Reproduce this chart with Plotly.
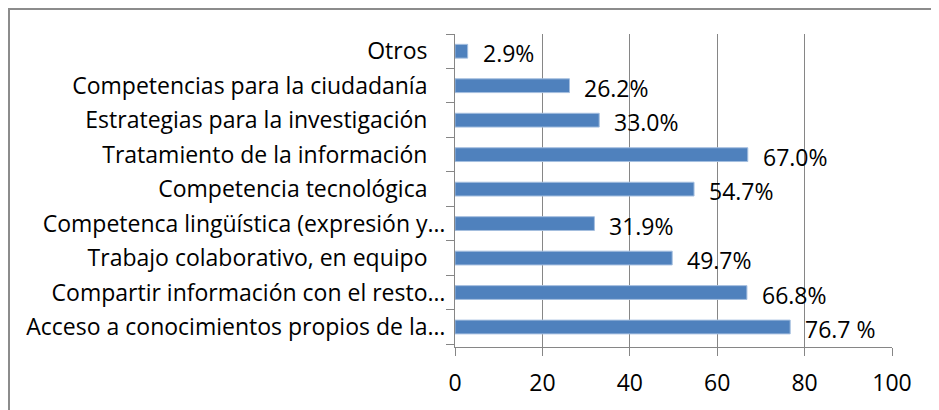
import plotly.graph_objects as go

categories = [
    "Acceso a conocimientos propios de la…",
    "Compartir información con el resto…",
    "Trabajo colaborativo, en equipo",
    "Competenca lingüística (expresión y…",
    "Competencia tecnológica",
    "Tratamiento de la información",
    "Estrategias para la investigación",
    "Competencias para la ciudadanía",
    "Otros",
]
values = [76.7, 66.8, 49.7, 31.9, 54.7, 67.0, 33.0, 26.2, 2.9]
value_labels = ["76.7 %", "66.8%", "49.7%", "31.9%", "54.7%", "67.0%", "33.0%", "26.2%", "2.9%"]
x_ticks = [0, 20, 40, 60, 80, 100]

FONT = "Open Sans"
FS = 23

ticktext = [c if c.endswith("…") else c + "\u00a0\u00a0\u00a0" for c in categories]

fig = go.Figure()
fig.add_trace(go.Bar(
    y=categories, x=values, orientation="h",
    marker=dict(color="#4F81BD", line=dict(color="#A4BEDF", width=1)),
    hoverinfo="skip",
))

for c, v, t in zip(categories, values, value_labels):
    fig.add_annotation(x=v, y=c, text=t, showarrow=False, xanchor="left",
                       xshift=13, yshift=-2, font=dict(family=FONT, size=FS, color="#000"))

fig.update_layout(
    width=931, height=402,
    margin=dict(l=447, r=47, t=26, b=63),
    paper_bgcolor="white", plot_bgcolor="white",
    showlegend=False, bargap=0.6,
    font=dict(family=FONT, size=FS, color="#000"),
    xaxis=dict(range=[0, 100], tickvals=x_ticks, showgrid=True, gridcolor="#868686",
               gridwidth=1, showline=True, linecolor="#868686", ticks="outside",
               ticklen=8, tickcolor="#868686", zeroline=False, ticklabelstandoff=7,
               tickfont=dict(family=FONT, size=FS)),
    yaxis=dict(categoryorder="array", categoryarray=categories, tickvals=categories,
               ticktext=ticktext, showline=True, linecolor="#868686", ticks="outside",
               ticklen=8, tickcolor="#868686", tickson="boundaries", showgrid=False,
               ticklabelstandoff=4, tickfont=dict(family=FONT, size=FS)),
    shapes=[dict(type="rect", xref="paper", yref="paper", x0=-1.0206, x1=1.3,
                 y0=-0.3, y1=1.0799, line=dict(color="#8C8C8C", width=2))],
)

fig.write_html("out.html")
